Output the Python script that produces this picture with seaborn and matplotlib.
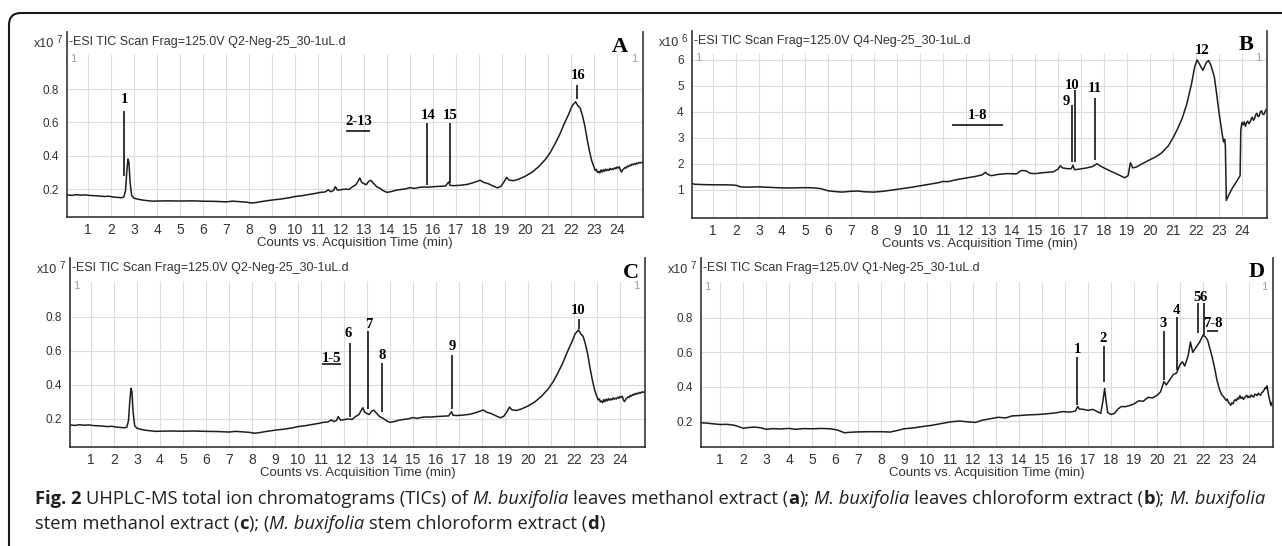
import matplotlib.pyplot as plt
import seaborn as sns
from matplotlib import font_manager
from matplotlib.patches import FancyBboxPatch

sns.set_style('white')

# fonts: narrow sans for the instrument printout, serif bold for the peak numbers
names = {f.name for f in font_manager.fontManager.ttflist}
NARROW = 'Liberation Sans Narrow' if 'Liberation Sans Narrow' in names else 'Liberation Sans'
SERIF = 'Liberation Serif'
CAP = 'Open Sans'
plt.rcParams['font.family'] = [NARROW, 'DejaVu Sans']

# ---- data: (time min, counts) ----
# Q2 run (panels A and C), x10^7 counts
q2_trace = [
    (0.09, 0.165), (0.3, 0.162), (0.5, 0.166), (0.7, 0.163), (0.9, 0.165), (1.1, 0.161),
    (1.3, 0.160), (1.5, 0.158), (1.7, 0.155), (1.9, 0.157), (2.1, 0.152), (2.3, 0.150),
    (2.45, 0.148), (2.56, 0.152), (2.63, 0.19), (2.69, 0.31), (2.74, 0.38), (2.78, 0.36),
    (2.83, 0.24), (2.9, 0.16), (3.0, 0.145), (3.2, 0.138), (3.4, 0.133), (3.6, 0.130),
    (3.8, 0.127), (4.0, 0.128), (4.5, 0.129), (5.0, 0.128), (5.5, 0.129), (6.0, 0.127),
    (6.5, 0.126), (7.0, 0.123), (7.3, 0.127), (7.6, 0.124), (7.9, 0.121), (8.1, 0.116),
    (8.3, 0.119), (8.6, 0.126), (9.0, 0.134), (9.4, 0.140), (9.8, 0.149), (10.0, 0.155),
    (10.3, 0.160), (10.6, 0.167), (10.9, 0.174), (11.1, 0.180), (11.3, 0.182), (11.45, 0.195),
    (11.55, 0.184), (11.68, 0.192), (11.75, 0.214), (11.85, 0.193), (12.0, 0.196), (12.2, 0.200),
    (12.35, 0.197), (12.5, 0.214), (12.65, 0.226), (12.75, 0.250), (12.82, 0.266), (12.9, 0.240),
    (13.0, 0.232), (13.1, 0.226), (13.2, 0.246), (13.3, 0.252), (13.4, 0.236), (13.55, 0.214),
    (13.7, 0.204), (13.85, 0.189), (14.0, 0.180), (14.2, 0.185), (14.4, 0.193), (14.6, 0.197),
    (14.8, 0.201), (15.0, 0.208), (15.2, 0.204), (15.4, 0.210), (15.6, 0.212), (15.8, 0.211),
    (16.0, 0.214), (16.3, 0.216), (16.55, 0.218), (16.62, 0.232), (16.68, 0.242), (16.74, 0.222),
    (16.9, 0.220), (17.2, 0.223), (17.5, 0.228), (17.7, 0.236), (17.9, 0.245), (18.05, 0.253),
    (18.2, 0.240), (18.4, 0.232), (18.6, 0.219), (18.8, 0.207), (18.95, 0.216), (19.1, 0.246),
    (19.2, 0.270), (19.3, 0.254), (19.5, 0.250), (19.7, 0.258), (20.0, 0.276), (20.3, 0.300),
    (20.6, 0.335), (20.9, 0.380), (21.1, 0.420), (21.3, 0.470), (21.5, 0.525), (21.7, 0.590),
    (21.9, 0.650), (22.05, 0.700), (22.2, 0.724), (22.3, 0.700), (22.4, 0.686), (22.5, 0.640),
    (22.6, 0.580), (22.7, 0.500), (22.8, 0.430), (22.9, 0.370), (23.0, 0.330), (23.05, 0.312),
    (23.1, 0.318), (23.15, 0.300), (23.2, 0.306), (23.25, 0.296), (23.3, 0.314), (23.35, 0.302),
    (23.4, 0.316), (23.45, 0.306), (23.5, 0.320), (23.55, 0.310), (23.6, 0.318), (23.65, 0.312),
    (23.7, 0.324), (23.75, 0.316), (23.8, 0.322), (23.85, 0.318), (23.9, 0.328), (23.95, 0.322),
    (24.0, 0.332), (24.05, 0.326), (24.1, 0.334), (24.15, 0.312), (24.2, 0.302), (24.25, 0.316),
    (24.3, 0.322), (24.35, 0.330), (24.4, 0.326), (24.45, 0.338), (24.5, 0.334), (24.55, 0.344),
    (24.6, 0.340), (24.65, 0.350), (24.7, 0.345), (24.75, 0.352), (24.8, 0.348), (24.85, 0.356),
    (24.9, 0.352), (24.95, 0.360), (25.0, 0.356), (25.1, 0.362),
]

# Q4 run (panel B), x10^6 counts
q4_trace = [
    (0.09, 1.25), (0.2, 1.22), (0.5, 1.21), (1.0, 1.20), (1.5, 1.20), (1.9, 1.19), (2.05, 1.17),
    (2.2, 1.12), (2.5, 1.11), (3.0, 1.12), (3.5, 1.10), (4.0, 1.08), (4.5, 1.08), (5.0, 1.09),
    (5.4, 1.08), (5.7, 1.05), (6.0, 0.97), (6.3, 0.94), (6.6, 0.92), (7.0, 0.95), (7.3, 0.96),
    (7.6, 0.93), (8.0, 0.92), (8.4, 0.95), (8.8, 1.00), (9.2, 1.05), (9.6, 1.10), (10.0, 1.16),
    (10.4, 1.22), (10.8, 1.28), (11.0, 1.33), (11.2, 1.32), (11.6, 1.40), (12.0, 1.46),
    (12.4, 1.52), (12.7, 1.58), (12.85, 1.68), (12.95, 1.60), (13.1, 1.55), (13.4, 1.60),
    (13.8, 1.63), (14.2, 1.62), (14.4, 1.75), (14.6, 1.74), (14.8, 1.64), (15.0, 1.63),
    (15.4, 1.67), (15.8, 1.70), (16.0, 1.80), (16.1, 1.93), (16.2, 1.85), (16.4, 1.82),
    (16.58, 1.82), (16.65, 1.95), (16.72, 1.78), (16.9, 1.80), (17.2, 1.84), (17.5, 1.90),
    (17.7, 2.01), (17.85, 1.92), (18.0, 1.85), (18.3, 1.72), (18.6, 1.60), (18.9, 1.47),
    (19.05, 1.55), (19.15, 2.05), (19.25, 1.85), (19.4, 1.88), (19.6, 1.98), (19.9, 2.12),
    (20.2, 2.25), (20.5, 2.42), (20.8, 2.70), (21.0, 3.00), (21.2, 3.35), (21.4, 3.75),
    (21.6, 4.30), (21.8, 5.05), (21.95, 5.75), (22.05, 6.00), (22.15, 5.85), (22.3, 5.60),
    (22.45, 5.90), (22.55, 5.98), (22.65, 5.80), (22.8, 5.35), (22.9, 4.70), (23.0, 4.00),
    (23.05, 3.70), (23.1, 3.40), (23.15, 3.10), (23.2, 2.85), (23.25, 2.95), (23.28, 2.70),
    (23.32, 0.60), (23.45, 0.85), (23.6, 1.10), (23.75, 1.30), (23.85, 1.45), (23.92, 1.55),
    (23.95, 3.30), (24.0, 3.60), (24.05, 3.50), (24.1, 3.62), (24.15, 3.45), (24.2, 3.58),
    (24.25, 3.65), (24.3, 3.55), (24.35, 3.60), (24.4, 3.72), (24.45, 3.80), (24.5, 3.68),
    (24.55, 3.75), (24.6, 3.90), (24.65, 3.95), (24.7, 3.82), (24.75, 3.85), (24.8, 4.00),
    (24.85, 4.05), (24.9, 3.92), (24.95, 3.90), (25.05, 4.10),
]

# Q1 run (panel D), x10^7 counts
q1_trace = [
    (0.15, 0.190), (0.4, 0.188), (0.7, 0.184), (1.0, 0.180), (1.3, 0.181), (1.6, 0.176),
    (1.8, 0.168), (2.0, 0.158), (2.2, 0.162), (2.5, 0.165), (2.8, 0.160), (3.0, 0.152),
    (3.3, 0.156), (3.6, 0.154), (4.0, 0.157), (4.3, 0.152), (4.6, 0.156), (5.0, 0.155),
    (5.4, 0.157), (5.8, 0.155), (6.1, 0.148), (6.4, 0.132), (6.7, 0.135), (7.0, 0.137),
    (7.5, 0.138), (8.0, 0.138), (8.4, 0.136), (8.7, 0.145), (9.0, 0.155), (9.4, 0.160),
    (9.8, 0.168), (10.2, 0.175), (10.6, 0.185), (11.0, 0.195), (11.4, 0.200), (11.8, 0.195),
    (12.1, 0.192), (12.4, 0.205), (12.8, 0.215), (13.1, 0.222), (13.4, 0.218), (13.7, 0.230),
    (14.0, 0.232), (14.4, 0.236), (14.8, 0.238), (15.2, 0.242), (15.6, 0.248), (15.9, 0.255),
    (16.2, 0.252), (16.45, 0.258), (16.55, 0.285), (16.62, 0.270), (16.8, 0.268), (17.0, 0.262),
    (17.2, 0.268), (17.4, 0.255), (17.55, 0.245), (17.65, 0.320), (17.72, 0.390), (17.78, 0.320),
    (17.85, 0.250), (18.0, 0.238), (18.15, 0.245), (18.3, 0.270), (18.45, 0.285), (18.6, 0.283),
    (18.8, 0.290), (19.0, 0.300), (19.2, 0.318), (19.4, 0.315), (19.6, 0.338), (19.8, 0.335),
    (20.0, 0.350), (20.15, 0.370), (20.3, 0.430), (20.4, 0.410), (20.55, 0.440), (20.7, 0.470),
    (20.85, 0.480), (21.0, 0.530), (21.1, 0.545), (21.2, 0.520), (21.35, 0.580), (21.45, 0.660),
    (21.55, 0.600), (21.7, 0.630), (21.85, 0.660), (22.0, 0.700), (22.1, 0.690), (22.2, 0.670),
    (22.3, 0.620), (22.4, 0.570), (22.5, 0.510), (22.6, 0.440), (22.7, 0.390), (22.8, 0.355),
    (22.9, 0.340), (23.0, 0.320), (23.05, 0.328), (23.1, 0.310), (23.15, 0.302), (23.2, 0.292),
    (23.25, 0.306), (23.3, 0.300), (23.35, 0.318), (23.4, 0.325), (23.45, 0.318), (23.5, 0.335),
    (23.55, 0.328), (23.6, 0.348), (23.65, 0.332), (23.7, 0.340), (23.75, 0.326), (23.8, 0.335),
    (23.85, 0.344), (23.9, 0.350), (23.95, 0.336), (24.0, 0.345), (24.05, 0.338), (24.1, 0.352),
    (24.15, 0.344), (24.2, 0.340), (24.25, 0.356), (24.3, 0.355), (24.35, 0.348), (24.4, 0.362),
    (24.45, 0.356), (24.5, 0.350), (24.55, 0.366), (24.6, 0.370), (24.65, 0.380), (24.7, 0.395),
    (24.75, 0.388), (24.78, 0.405), (24.85, 0.350), (24.9, 0.320), (24.95, 0.290), (25.0, 0.310),
]

# ---- peak annotations: label, line time, line top, line bottom, label x, label y ----
peaks_a = [('1', 2.55, 0.67, 0.28, 2.58, 0.74), ('14', 15.76, 0.594, 0.224, 15.78, 0.644),
           ('15', 16.72, 0.594, 0.236, 16.75, 0.644), ('16', 22.25, 0.825, 0.739, 22.3, 0.879)]
peaks_b = [('9', 16.62, 4.25, 2.07, 16.35, 4.42), ('10', 16.72, 4.85, 2.07, 16.62, 5.0),
           ('11', 17.62, 4.55, 2.15, 17.62, 4.9), ('12', None, None, None, 22.25, 6.35)]
peaks_c = [('6', 12.25, 0.649, 0.21, 12.2, 0.70), ('7', 13.03, 0.718, 0.257, 13.07, 0.755),
           ('8', 13.67, 0.528, 0.243, 13.67, 0.575), ('9', 16.69, 0.576, 0.257, 16.69, 0.625),
           ('10', 22.2, 0.79, 0.728, 22.2, 0.84)]
peaks_d = [('1', 16.53, 0.575, 0.293, 16.55, 0.617), ('2', 17.68, 0.635, 0.43, 17.66, 0.678),
           ('3', 20.32, 0.724, 0.439, 20.28, 0.769), ('4', 20.87, 0.807, 0.497, 20.85, 0.846),
           ('5', 21.8, 0.886, 0.71, 21.72, 0.918), ('6', 22.04, 0.886, 0.70, 22.0, 0.918)]
# grouped labels: label, label x, label y, bar start, bar end, bar y
groups_a = [('2-13', 12.75, 0.604, 12.22, 13.28, 0.548)]
groups_b = [('1-8', 12.5, 3.85, 11.4, 13.6, 3.5)]
groups_c = [('1-5', 11.45, 0.555, 11.05, 11.87, 0.522)]
groups_d = [('7-8', 22.42, 0.765, 22.15, 22.65, 0.722)]

ticks_e7 = [0.2, 0.4, 0.6, 0.8]
ticks_e6 = [1, 2, 3, 4, 5, 6]
minutes = list(range(1, 25))
titles = ['-ESI TIC Scan Frag=125.0V Q2-Neg-25_30-1uL.d',
          '-ESI TIC Scan Frag=125.0V Q4-Neg-25_30-1uL.d',
          '-ESI TIC Scan Frag=125.0V Q2-Neg-25_30-1uL.d',
          '-ESI TIC Scan Frag=125.0V Q1-Neg-25_30-1uL.d']
letters = ['A', 'B', 'C', 'D']
exponents = ['7', '6', '7', '7']

# caption pieces: (text, weight, style)
caption_1 = [('Fig. 2', 'bold', 'normal'),
             (' UHPLC-MS total ion chromatograms (TICs) of ', 'normal', 'normal'),
             ('M. buxifolia', 'normal', 'italic'),
             (' leaves methanol extract (', 'normal', 'normal'), ('a', 'bold', 'normal'),
             ('); ', 'normal', 'normal'), ('M. buxifolia', 'normal', 'italic'),
             (' leaves chloroform extract (', 'normal', 'normal'), ('b', 'bold', 'normal'),
             ('); ', 'normal', 'normal'), ('M. buxifolia', 'normal', 'italic')]
caption_2 = [('stem methanol extract (', 'normal', 'normal'), ('c', 'bold', 'normal'),
             ('); (', 'normal', 'normal'), ('M. buxifolia', 'normal', 'italic'),
             (' stem chloroform extract (', 'normal', 'normal'), ('d', 'bold', 'normal'),
             (')', 'normal', 'normal')]

# ---- figure ----
W, H = 1282, 546
fig = plt.figure(figsize=(W / 100, H / 100), dpi=100)
renderer = fig.canvas.get_renderer()


def ftext(x, y, s, **kw):
    # place text with pixel coordinates measured from the top-left
    return fig.text(x / W, 1 - y / H, s, **kw)


def text_width(s, size, weight='normal', style='normal'):
    t = fig.text(0, 0, s, family=CAP, fontsize=size, weight=weight, style=style)
    w = t.get_window_extent(renderer).width
    t.remove()
    return w


def place_caption(x, y, pieces, size, draw=True):
    space = text_width('a a', size) - text_width('aa', size)
    for s, weight, style in pieces:
        lead = len(s) - len(s.lstrip(' '))
        trail = len(s) - len(s.rstrip(' '))
        core = s.strip(' ')
        x += lead * space
        if draw:
            ftext(x, y, core, ha='left', va='center', family=CAP, fontsize=size,
                  weight=weight, style=style, color='#231f20')
        x += text_width(core, size, weight, style) + trail * space
    return x


# outer rounded frame of the figure box
frame = FancyBboxPatch((0.09, -0.6), 14, 5.33 + 0.6, boxstyle='round,pad=0,rounding_size=0.12',
                       transform=fig.dpi_scale_trans, fill=False, lw=1.5, ec='#1a1a1a')
fig.patches.append(frame)

# axes boxes in pixels (left, top, right, bottom) and limits
layout = [
    dict(box=(67, 32, 643, 217), xlim=(0.087, 25.13), ylim=(0.032, 1.143), grid_top=1.01,
         letter_xy=(620, 47)),
    dict(box=(692, 31, 1267, 218), xlim=(0.087, 25.09), ylim=(-0.077, 7.115), grid_top=6.26,
         letter_xy=(1246, 45)),
    dict(box=(70, 258, 645, 447), xlim=(0.087, 25.09), ylim=(0.035, 1.147), grid_top=1.01,
         letter_xy=(631, 273)),
    dict(box=(701, 258, 1273, 447), xlim=(0.17, 25.04), ylim=(0.049, 1.149), grid_top=1.01,
         letter_xy=(1257, 272)),
]
traces = [q2_trace, q4_trace, q2_trace, q1_trace]
peak_sets = [peaks_a, peaks_b, peaks_c, peaks_d]
group_sets = [groups_a, groups_b, groups_c, groups_d]
ytick_sets = [ticks_e7, ticks_e6, ticks_e7, ticks_e7]

for i in range(4):
    lay = layout[i]
    x0, y0, x1, y1 = lay['box']
    ax = fig.add_axes([x0 / W, 1 - y1 / H, (x1 - x0) / W, (y1 - y0) / H])
    ax.set_facecolor('none')
    ax.set_xlim(lay['xlim'])
    ax.set_ylim(lay['ylim'])
    yt = ytick_sets[i]

    # light grid like the instrument software
    ax.vlines(minutes, lay['ylim'][0], lay['grid_top'], colors='#dcdcdc', lw=0.8, zorder=0)
    ax.hlines(yt, lay['xlim'][0], lay['xlim'][1], colors='#dcdcdc', lw=0.8, zorder=0)

    t = [p[0] for p in traces[i]]
    v = [p[1] for p in traces[i]]
    sns.lineplot(x=t, y=v, ax=ax, color='#1e1e1e', lw=1.1, estimator=None, sort=False)

    for lab, lt, top, bot, lx, ly in peak_sets[i]:
        if lt is not None:
            ax.vlines(lt, bot, top, colors='black', lw=1.1)
        ax.text(lx, ly, lab, ha='center', va='center', family=SERIF, weight='bold',
                fontsize=10.5, color='black')
    for lab, gx, gy, u0, u1, uy in group_sets[i]:
        ax.text(gx, gy, lab, ha='center', va='center', family=SERIF, weight='bold',
                fontsize=10.5, color='black')
        ax.hlines(uy, u0, u1, colors='black', lw=1.1)

    # corner cursor marks
    ax.text(lay['xlim'][0] + 0.15, lay['grid_top'], '1', ha='left', va='top',
            fontsize=8, color='#a0a0a0')
    ax.text(lay['xlim'][1] - 0.25, lay['grid_top'], '1', ha='right', va='top',
            fontsize=8, color='#a0a0a0')

    ax.set_xticks(minutes)
    ax.set_xticklabels([str(m) for m in minutes])
    ax.set_yticks(yt)
    if i == 1:
        ax.set_yticklabels([str(y) for y in yt])
    else:
        ax.set_yticklabels(['%.1f' % y for y in yt])
    ax.tick_params(axis='x', length=2, width=0.8, pad=2, labelsize=10, colors='#333333')
    ax.tick_params(axis='y', length=4, width=0.8, pad=2, labelsize=8.5, colors='#333333')
    ax.set_xlabel('Counts vs. Acquisition Time (min)', fontsize=9.5, color='#333333',
                  labelpad=0)
    ax.set_ylabel('')
    for side in ['left', 'right', 'bottom']:
        ax.spines[side].set_visible(True)
        ax.spines[side].set_color('#333333')
        ax.spines[side].set_linewidth(1.2)
    ax.spines['top'].set_visible(False)

    # header texts of the printout
    ty = y0 + 10
    ftext(x0 + 2, ty, titles[i], ha='left', va='center', fontsize=9, color='#333333')
    ftext(x0 - 13, ty + 2, 'x10', ha='right', va='center', fontsize=9, color='#333333')
    ftext(x0 - 11, ty - 2, exponents[i], ha='left', va='center', fontsize=7, color='#333333')
    lx_, ly_ = lay['letter_xy']
    ftext(lx_, ly_, letters[i], ha='center', va='center', family=SERIF, weight='bold',
          fontsize=16, color='black')

# caption, sized so that the first line fills the printed width
trial = place_caption(35, 499, caption_1, 11, draw=False) - 35
size = 11 * 1229 / trial
place_caption(35, 499, caption_1, size)
place_caption(35, 524, caption_2, size)

fig.savefig('out.png', dpi=100)
